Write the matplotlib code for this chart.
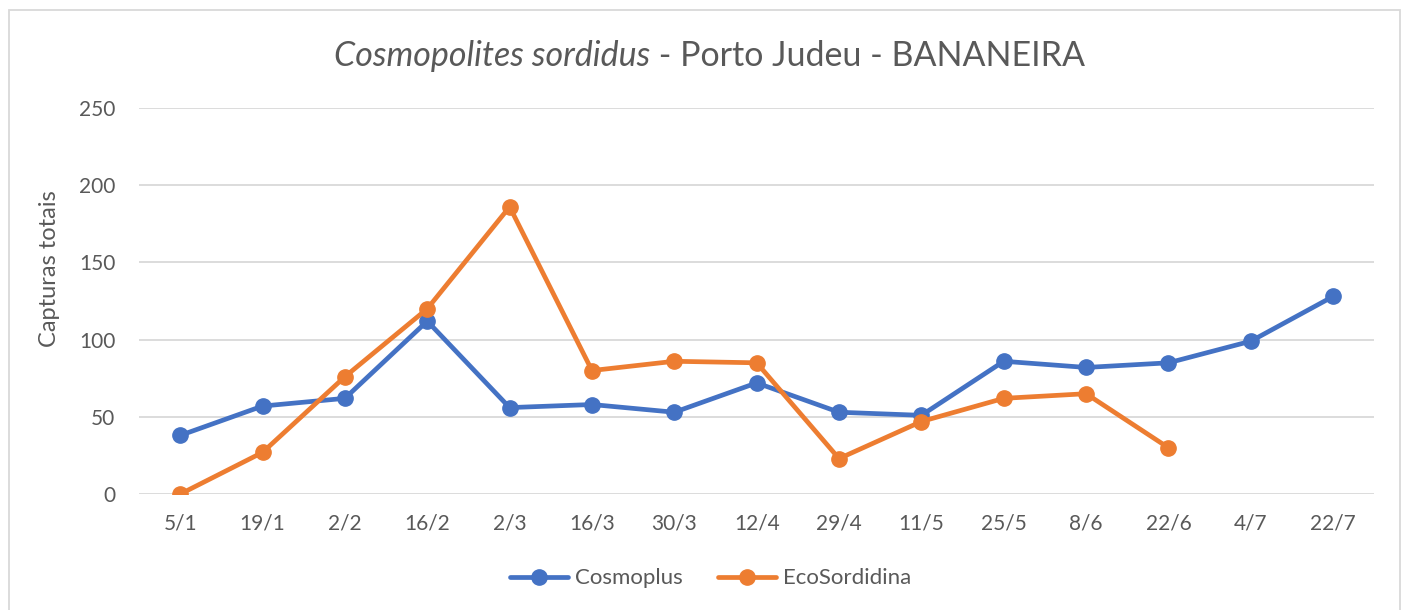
import matplotlib
matplotlib.use("Agg")
import matplotlib.pyplot as plt
import matplotlib.patches as mpatches

# ── DATA ───────────────────────────────────────────────────────────────────────
dates = ["5/1", "19/1", "2/2", "16/2", "2/3", "16/3", "30/3", "12/4",
         "29/4", "11/5", "25/5", "8/6", "22/6", "4/7", "22/7"]
cosmoplus = [38, 57, 62, 112, 56, 58, 53, 72, 53, 51, 86, 82, 85, 99, 128]
ecosordidina = [0, 27, 76, 120, 186, 80, 86, 85, 23, 47, 62, 65, 30]
yticks = [0, 50, 100, 150, 200, 250]

# ── THEME ──────────────────────────────────────────────────────────────────────
BLUE = "#4472C4"
ORANGE = "#ED7D31"
GRID = "#D9D9D9"
TEXT = "#595959"
FONT = "Lato"

plt.rcParams["font.family"] = [FONT, "DejaVu Sans"]

fig = plt.figure(figsize=(14.07, 6.10), dpi=100)
ax = fig.add_axes([0.0988, 0.190, 0.878, 0.633])

x = list(range(len(dates)))
ax.plot(x, cosmoplus, color=BLUE, lw=3.4, marker="o", ms=11,
        label="Cosmoplus", zorder=3, solid_capstyle="round")
ax.plot(x[:len(ecosordidina)], ecosordidina, color=ORANGE, lw=3.4, marker="o",
        ms=11, label="EcoSordidina", zorder=3, solid_capstyle="round")

ax.set_xlim(-0.5, len(dates) - 0.5)
ax.set_ylim(0, 250)
ax.set_yticks(yticks)
ax.set_xticks(x)
ax.set_xticklabels(dates)
ax.grid(axis="y", color=GRID, lw=1.3)
ax.set_axisbelow(True)
for s in ax.spines.values():
    s.set_visible(False)
ax.tick_params(length=0, labelsize=15, labelcolor=TEXT)
ax.tick_params(axis="x", pad=14)
ax.tick_params(axis="y", pad=17)
ax.set_ylabel("Capturas totais", fontsize=17, color=TEXT)
ax.yaxis.set_label_coords(-0.064, 0.585)

leg = fig.legend(loc="center", bbox_to_anchor=(0.505, 0.052), ncol=2,
                 frameon=False, fontsize=16, labelcolor=TEXT,
                 handlelength=2.6, columnspacing=1.6, handletextpad=0.3)

# ── TITLE (italic species name + plain rest) ─────────────────────────────────
fig.canvas.draw()
r = fig.canvas.get_renderer()
t1 = fig.text(0, 0.908, "Cosmopolites sordidus", fontsize=24.5, style="italic",
              color=TEXT, va="center")
t2 = fig.text(0, 0.908, " - Porto Judeu - BANANEIRA", fontsize=24.5,
              color=TEXT, va="center")
w1 = t1.get_window_extent(r).width / fig.bbox.width
w2 = t2.get_window_extent(r).width / fig.bbox.width
x0 = 0.5045 - (w1 + w2) / 2
t1.set_x(x0)
t2.set_x(x0 + w1)

# outer chart border
fig.add_artist(mpatches.Rectangle((0.0064, -0.01), 0.9886, 0.9936,
                                  transform=fig.transFigure, fill=False,
                                  edgecolor=GRID, lw=1.3))

fig.savefig("out.png", dpi=100)
